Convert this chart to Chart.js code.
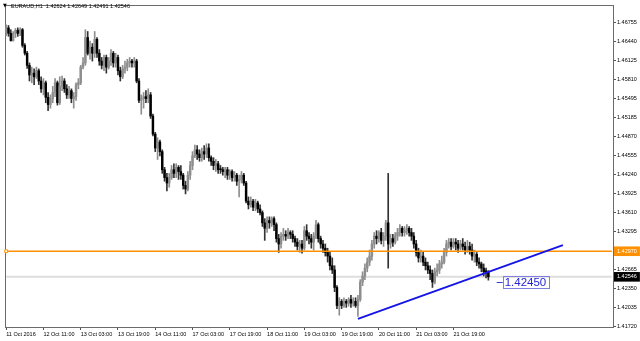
<!DOCTYPE html>
<html>
<head>
<meta charset="utf-8">
<script src="https://cdn.jsdelivr.net/npm/chart.js@4.4.0/dist/chart.umd.min.js"></script>
<style>
  html, body { margin: 0; padding: 0; background: #fff; }
  #wrap { width: 640px; height: 341px; }
</style>
</head>
<body>
<div id="wrap"><canvas id="myChart" width="640" height="341"></canvas></div>
<script>
const symbol = 'EURAUD,H1';

// H1 bars
const opens = [
  1.4663,1.4667,1.4658,1.4646,1.4658,1.4663,1.4658,1.4664,1.4638,1.4625,
  1.4605,1.4589,1.4592,1.4586,1.4596,1.4579,1.4566,1.4576,1.4552,1.4540,
  1.4550,1.4560,1.4576,1.4543,1.4570,1.4579,1.4566,1.4556,1.4563,1.4550,
  1.4553,1.4573,1.4576,1.4602,1.4609,1.4651,1.4625,1.4635,1.4625,1.4648,
  1.4625,1.4612,1.4605,1.4618,1.4602,1.4612,1.4625,1.4609,1.4618,1.4596,
  1.4586,1.4599,1.4602,1.4609,1.4612,1.4609,1.4612,1.4579,1.4547,1.4550,
  1.4553,1.4550,1.4556,1.4521,1.4491,1.4468,1.4478,1.4462,1.4432,1.4419,
  1.4410,1.4419,1.4432,1.4426,1.4436,1.4429,1.4423,1.4406,1.4400,1.4423,
  1.4439,1.4455,1.4465,1.4458,1.4452,1.4462,1.4458,1.4468,1.4452,1.4446,
  1.4439,1.4442,1.4432,1.4432,1.4429,1.4432,1.4423,1.4429,1.4419,1.4423,
  1.4413,1.4416,1.4423,1.4410,1.4380,1.4374,1.4380,1.4370,1.4377,1.4367,
  1.4361,1.4344,1.4335,1.4348,1.4344,1.4351,1.4341,1.4318,1.4309,1.4322,
  1.4325,1.4322,1.4328,1.4325,1.4318,1.4312,1.4305,1.4309,1.4302,1.4331,
  1.4322,1.4318,1.4312,1.4322,1.4341,1.4318,1.4309,1.4302,1.4295,1.4289,
  1.4273,1.4266,1.4237,1.4207,1.4214,1.4207,1.4214,1.4211,1.4217,1.4211,
  1.4214,1.4207,1.4217,1.4246,1.4256,1.4269,1.4279,1.4289,1.4309,1.4322,
  1.4318,1.4328,1.4315,1.4322,1.4344,1.4309,1.4318,1.4312,1.4322,1.4328,
  1.4335,1.4328,1.4331,1.4335,1.4328,1.4322,1.4309,1.4295,1.4286,1.4289,
  1.4279,1.4273,1.4266,1.4260,1.4246,1.4263,1.4266,1.4276,1.4279,1.4295,
  1.4309,1.4312,1.4305,1.4312,1.4309,1.4302,1.4309,1.4305,1.4299,1.4305,
  1.4299,1.4289,1.4292,1.4279,1.4276,1.4269,1.4263,1.42624
];
const highs = [
  1.4672,1.4671,1.4664,1.4661,1.4666,1.4667,1.4667,1.4666,1.4641,1.4628,
  1.4609,1.4602,1.4599,1.4602,1.4599,1.4586,1.4583,1.4579,1.4560,1.4556,
  1.4570,1.4583,1.4579,1.4586,1.4587,1.4583,1.4573,1.4570,1.4566,1.4560,
  1.4576,1.4583,1.4605,1.4618,1.4664,1.4661,1.4645,1.4641,1.4661,1.4651,
  1.4631,1.4618,1.4622,1.4622,1.4618,1.4631,1.4628,1.4625,1.4622,1.4602,
  1.4605,1.4612,1.4615,1.4618,1.4615,1.4618,1.4615,1.4583,1.4556,1.4560,
  1.4563,1.4566,1.4560,1.4524,1.4494,1.4485,1.4481,1.4465,1.4436,1.4426,
  1.4426,1.4439,1.4442,1.4442,1.4439,1.4439,1.4426,1.4413,1.4429,1.4446,
  1.4462,1.4473,1.4472,1.4465,1.4468,1.4472,1.4475,1.4475,1.4455,1.4452,
  1.4449,1.4446,1.4439,1.4436,1.4436,1.4436,1.4432,1.4432,1.4429,1.4426,
  1.4423,1.4429,1.4426,1.4413,1.4387,1.4387,1.4383,1.4383,1.4380,1.4374,
  1.4364,1.4351,1.4354,1.4354,1.4354,1.4354,1.4344,1.4325,1.4328,1.4335,
  1.4331,1.4335,1.4331,1.4331,1.4322,1.4318,1.4315,1.4315,1.4338,1.4341,
  1.4328,1.4325,1.4328,1.4348,1.4344,1.4322,1.4315,1.4309,1.4302,1.4295,
  1.4286,1.4273,1.4240,1.4220,1.4217,1.4220,1.4217,1.4220,1.4224,1.4220,
  1.4220,1.4224,1.4250,1.4263,1.4276,1.4286,1.4299,1.4315,1.4328,1.4331,
  1.4331,1.4335,1.4328,1.4348,1.4426,1.4325,1.4325,1.4328,1.4335,1.4341,
  1.4338,1.4338,1.4341,1.4338,1.4335,1.4328,1.4315,1.4302,1.4299,1.4295,
  1.4286,1.4279,1.4273,1.4266,1.4269,1.4276,1.4282,1.4289,1.4302,1.4315,
  1.4318,1.4318,1.4318,1.4318,1.4315,1.4315,1.4318,1.4312,1.4315,1.4312,
  1.4309,1.4299,1.4295,1.4286,1.4279,1.4276,1.4269,1.42649
];
const lows = [
  1.4654,1.4653,1.4645,1.4645,1.4651,1.4653,1.4654,1.4635,1.4622,1.4600,
  1.4579,1.4576,1.4573,1.4583,1.4573,1.4560,1.4556,1.4543,1.4530,1.4534,
  1.4543,1.4553,1.4539,1.4540,1.4563,1.4560,1.4550,1.4550,1.4543,1.4534,
  1.4547,1.4566,1.4573,1.4599,1.4605,1.4622,1.4615,1.4612,1.4618,1.4618,
  1.4605,1.4599,1.4596,1.4592,1.4599,1.4605,1.4602,1.4602,1.4589,1.4579,
  1.4583,1.4592,1.4596,1.4602,1.4602,1.4602,1.4576,1.4543,1.4524,1.4534,
  1.4543,1.4543,1.4517,1.4488,1.4462,1.4449,1.4455,1.4426,1.4413,1.4397,
  1.4403,1.4416,1.4419,1.4419,1.4416,1.4416,1.4400,1.4392,1.4397,1.4416,
  1.4432,1.4452,1.4449,1.4446,1.4446,1.4449,1.4452,1.4446,1.4439,1.4432,
  1.4429,1.4426,1.4426,1.4423,1.4419,1.4416,1.4416,1.4413,1.4413,1.4406,
  1.4387,1.4410,1.4406,1.4377,1.4367,1.4370,1.4364,1.4364,1.4361,1.4357,
  1.4338,1.4315,1.4328,1.4335,1.4338,1.4331,1.4312,1.4295,1.4302,1.4315,
  1.4315,1.4318,1.4318,1.4312,1.4305,1.4299,1.4295,1.4294,1.4299,1.4315,
  1.4309,1.4302,1.4299,1.4318,1.4312,1.4302,1.4295,1.4289,1.4279,1.4266,
  1.4260,1.4230,1.4202,1.4191,1.4202,1.4204,1.4204,1.4206,1.4204,1.4206,
  1.4204,1.4189,1.4214,1.4240,1.4250,1.4263,1.4273,1.4282,1.4302,1.4309,
  1.4312,1.4309,1.4305,1.4315,1.4269,1.4302,1.4305,1.4309,1.4315,1.4322,
  1.4322,1.4322,1.4325,1.4322,1.4315,1.4302,1.4289,1.4279,1.4279,1.4273,
  1.4266,1.4260,1.4250,1.4237,1.4243,1.4256,1.4260,1.4269,1.4276,1.4289,
  1.4302,1.4299,1.4302,1.4299,1.4295,1.4299,1.4299,1.4292,1.4295,1.4292,
  1.4282,1.4279,1.4273,1.4269,1.4263,1.4256,1.4253,1.42491
];
const closes = [
  1.4667,1.4658,1.4646,1.4658,1.4663,1.4658,1.4664,1.4638,1.4625,1.4605,
  1.4589,1.4592,1.4586,1.4596,1.4579,1.4566,1.4576,1.4552,1.4540,1.4550,
  1.4560,1.4576,1.4543,1.4570,1.4579,1.4566,1.4556,1.4563,1.4550,1.4553,
  1.4573,1.4576,1.4602,1.4609,1.4651,1.4625,1.4635,1.4625,1.4648,1.4625,
  1.4612,1.4605,1.4618,1.4602,1.4612,1.4625,1.4609,1.4618,1.4596,1.4586,
  1.4599,1.4602,1.4609,1.4612,1.4609,1.4612,1.4579,1.4547,1.4550,1.4553,
  1.4550,1.4556,1.4521,1.4491,1.4468,1.4478,1.4462,1.4432,1.4419,1.4410,
  1.4419,1.4432,1.4426,1.4436,1.4429,1.4423,1.4406,1.4400,1.4423,1.4439,
  1.4455,1.4465,1.4458,1.4452,1.4462,1.4458,1.4468,1.4452,1.4446,1.4439,
  1.4442,1.4432,1.4432,1.4429,1.4432,1.4423,1.4429,1.4419,1.4423,1.4413,
  1.4416,1.4423,1.4410,1.4380,1.4374,1.4380,1.4370,1.4377,1.4367,1.4361,
  1.4344,1.4335,1.4348,1.4344,1.4351,1.4341,1.4318,1.4309,1.4322,1.4325,
  1.4322,1.4328,1.4325,1.4318,1.4312,1.4305,1.4309,1.4302,1.4331,1.4322,
  1.4318,1.4312,1.4322,1.4341,1.4318,1.4309,1.4302,1.4295,1.4289,1.4273,
  1.4266,1.4237,1.4207,1.4214,1.4207,1.4214,1.4211,1.4217,1.4211,1.4214,
  1.4207,1.4217,1.4246,1.4256,1.4269,1.4279,1.4289,1.4309,1.4322,1.4318,
  1.4328,1.4315,1.4322,1.4344,1.4309,1.4318,1.4312,1.4322,1.4328,1.4335,
  1.4328,1.4331,1.4335,1.4328,1.4322,1.4309,1.4295,1.4286,1.4289,1.4279,
  1.4273,1.4266,1.4260,1.4246,1.4263,1.4266,1.4276,1.4279,1.4295,1.4309,
  1.4312,1.4305,1.4312,1.4309,1.4302,1.4309,1.4305,1.4299,1.4305,1.4299,
  1.4289,1.4292,1.4279,1.4276,1.4269,1.4263,1.4263,1.42546
];

// one label every 16 bars
const timeTicks = ['11 Oct 2016','12 Oct 11:00','13 Oct 03:00','13 Oct 19:00','14 Oct 11:00',
  '17 Oct 03:00','17 Oct 19:00','18 Oct 11:00','19 Oct 03:00','19 Oct 19:00',
  '20 Oct 11:00','21 Oct 03:00','21 Oct 19:00'];
const priceTicks = [1.46755, 1.46440, 1.46125, 1.45810, 1.45495, 1.45185, 1.44870, 1.44555,
  1.44240, 1.43925, 1.43610, 1.43295, 1.42970, 1.42665, 1.42546, 1.42350, 1.42035, 1.41720];

const levelPrice = 1.42970;   // orange horizontal line
const bidPrice = 1.42546;
const trendStart = [151, 1.4185];
const trendEnd = [239, 1.4307];
const trendNote = 1.42450;

const SLOTS = 261;
const ORANGE = '#ff9000';
const FONT = "'Liberation Sans', sans-serif";
const FSIZE = 5.5;

const labels = [];
for (let i = 0; i < SLOTS; i++) {
  labels.push(i % 16 === 0 && timeTicks[i / 16] ? timeTicks[i / 16] : '');
}

const wicks = opens.map((o, i) => [lows[i], highs[i]]);
const bodies = opens.map((o, i) => [o, closes[i]]);
const bodyColors = opens.map((o, i) => closes[i] > o ? '#8e8e8e' : '#000');
const wickColors = opens.map((o, i) => closes[i] > o ? '#8e8e8e' : '#333');

function hline(v) {
  const d = new Array(SLOTS).fill(null);
  d[0] = v; d[SLOTS - 1] = v;
  return d;
}
const trendData = new Array(SLOTS).fill(null);
trendData[trendStart[0]] = trendStart[1];
trendData[trendEnd[0]] = trendEnd[1];

const decor = {
  id: 'decor',
  beforeDatasetsDraw(chart) {
    const {ctx, chartArea: a} = chart;
    ctx.save();
    ctx.strokeStyle = '#6b6b6b';
    ctx.lineWidth = 1;
    ctx.strokeRect(a.left + 0.5, a.top + 0.5, a.right - a.left, a.bottom - a.top);
    ctx.restore();
  },
  afterDraw(chart) {
    const {ctx, scales} = chart;
    ctx.save();
    // header
    ctx.fillStyle = '#000';
    ctx.textBaseline = 'middle';
    ctx.font = "5px 'DejaVu Sans'";
    ctx.fillText('▼', 3, 6);
    ctx.font = FSIZE + 'px ' + FONT;
    const last = opens.length - 1;
    ctx.fillText(symbol + '  ' + opens[last].toFixed(5) + ' ' + highs[last].toFixed(5) + ' ' +
      lows[last].toFixed(5) + ' ' + closes[last].toFixed(5), 11, 6.5);
    // trend line price note
    const x = scales.x.getPixelForValue(214);
    const y = scales.y.getPixelForValue(trendNote);
    ctx.font = "11.5px 'Liberation Sans', sans-serif";
    const txt = trendNote.toFixed(5);
    const w = ctx.measureText(txt).width;
    ctx.strokeStyle = '#7f7fe0';
    ctx.lineWidth = 1;
    ctx.strokeRect(Math.round(x - 2) + 0.5, Math.round(y - 6.5) + 0.5, Math.round(w + 4), 12);
    ctx.beginPath();
    ctx.moveTo(x - 8, Math.round(y) - 0.5);
    ctx.lineTo(x - 2, Math.round(y) - 0.5);
    ctx.strokeStyle = '#3c3cd8';
    ctx.stroke();
    ctx.fillStyle = '#2424d4';
    ctx.fillText(txt, x, y + 0.5);
    ctx.restore();
  }
};

const isSpecial = v => v === levelPrice || v === bidPrice;

new Chart(document.getElementById('myChart'), {
  type: 'bar',
  data: {
    labels: labels,
    datasets: [
      {
        type: 'line', data: trendData, spanGaps: true, order: 0,
        borderColor: '#1414e6', borderWidth: 1.8, pointRadius: 0
      },
      {
        type: 'line', data: hline(levelPrice), spanGaps: true, order: 1,
        borderColor: ORANGE, borderWidth: 1.6,
        pointStyle: 'rect', pointRadius: ctx => ctx.dataIndex === 0 ? 2 : 0,
        pointBackgroundColor: '#fff', pointBorderColor: ORANGE, pointBorderWidth: 1
      },
      {
        data: bodies, order: 2, grouped: false, barThickness: 1.8, minBarLength: 1,
        backgroundColor: bodyColors, borderWidth: 0
      },
      {
        data: wicks, order: 3, grouped: false, barThickness: 1,
        backgroundColor: wickColors, borderWidth: 0
      },
      {
        type: 'line', data: hline(bidPrice), spanGaps: true, order: 5,
        borderColor: '#dedede', borderWidth: 2, pointRadius: 0
      }
    ]
  },
  options: {
    responsive: false,
    animation: false,
    devicePixelRatio: 1,
    layout: { padding: { left: 1, top: 1, right: 0, bottom: 0 } },
    plugins: { legend: { display: false }, tooltip: { enabled: false }, title: { display: false } },
    scales: {
      x: {
        type: 'category',
        offset: true,
        afterBuildTicks: scale => { scale.ticks = scale.ticks.filter(t => labels[t.value] !== ''); },
        afterFit: scale => { scale.height = 14; },
        grid: { display: true, drawOnChartArea: false, drawTicks: true, tickLength: 3, offset: false, color: '#555' },
        border: { display: false },
        ticks: {
          autoSkip: false, maxRotation: 0, minRotation: 0, align: 'start', padding: 1,
          color: '#000', font: { family: FONT, size: FSIZE }
        }
      },
      y: {
        position: 'right',
        min: 1.41715,
        max: 1.47049,
        afterBuildTicks: scale => { scale.ticks = priceTicks.map(v => ({ value: v })); },
        afterFit: scale => { scale.width = 27; },
        grid: { display: true, drawOnChartArea: false, drawTicks: true, tickLength: 3, color: '#555' },
        border: { display: false },
        ticks: {
          autoSkip: false, padding: 1,
          callback: v => Number(v).toFixed(5),
          color: ctx => isSpecial(ctx.tick.value) ? '#fff' : '#000',
          showLabelBackdrop: ctx => isSpecial(ctx.tick.value),
          backdropColor: ctx => ctx.tick.value === levelPrice ? ORANGE : '#000',
          backdropPadding: { x: 3, y: 1.5 },
          font: { family: FONT, size: FSIZE }
        }
      }
    }
  },
  plugins: [decor]
});
</script>
</body>
</html>
